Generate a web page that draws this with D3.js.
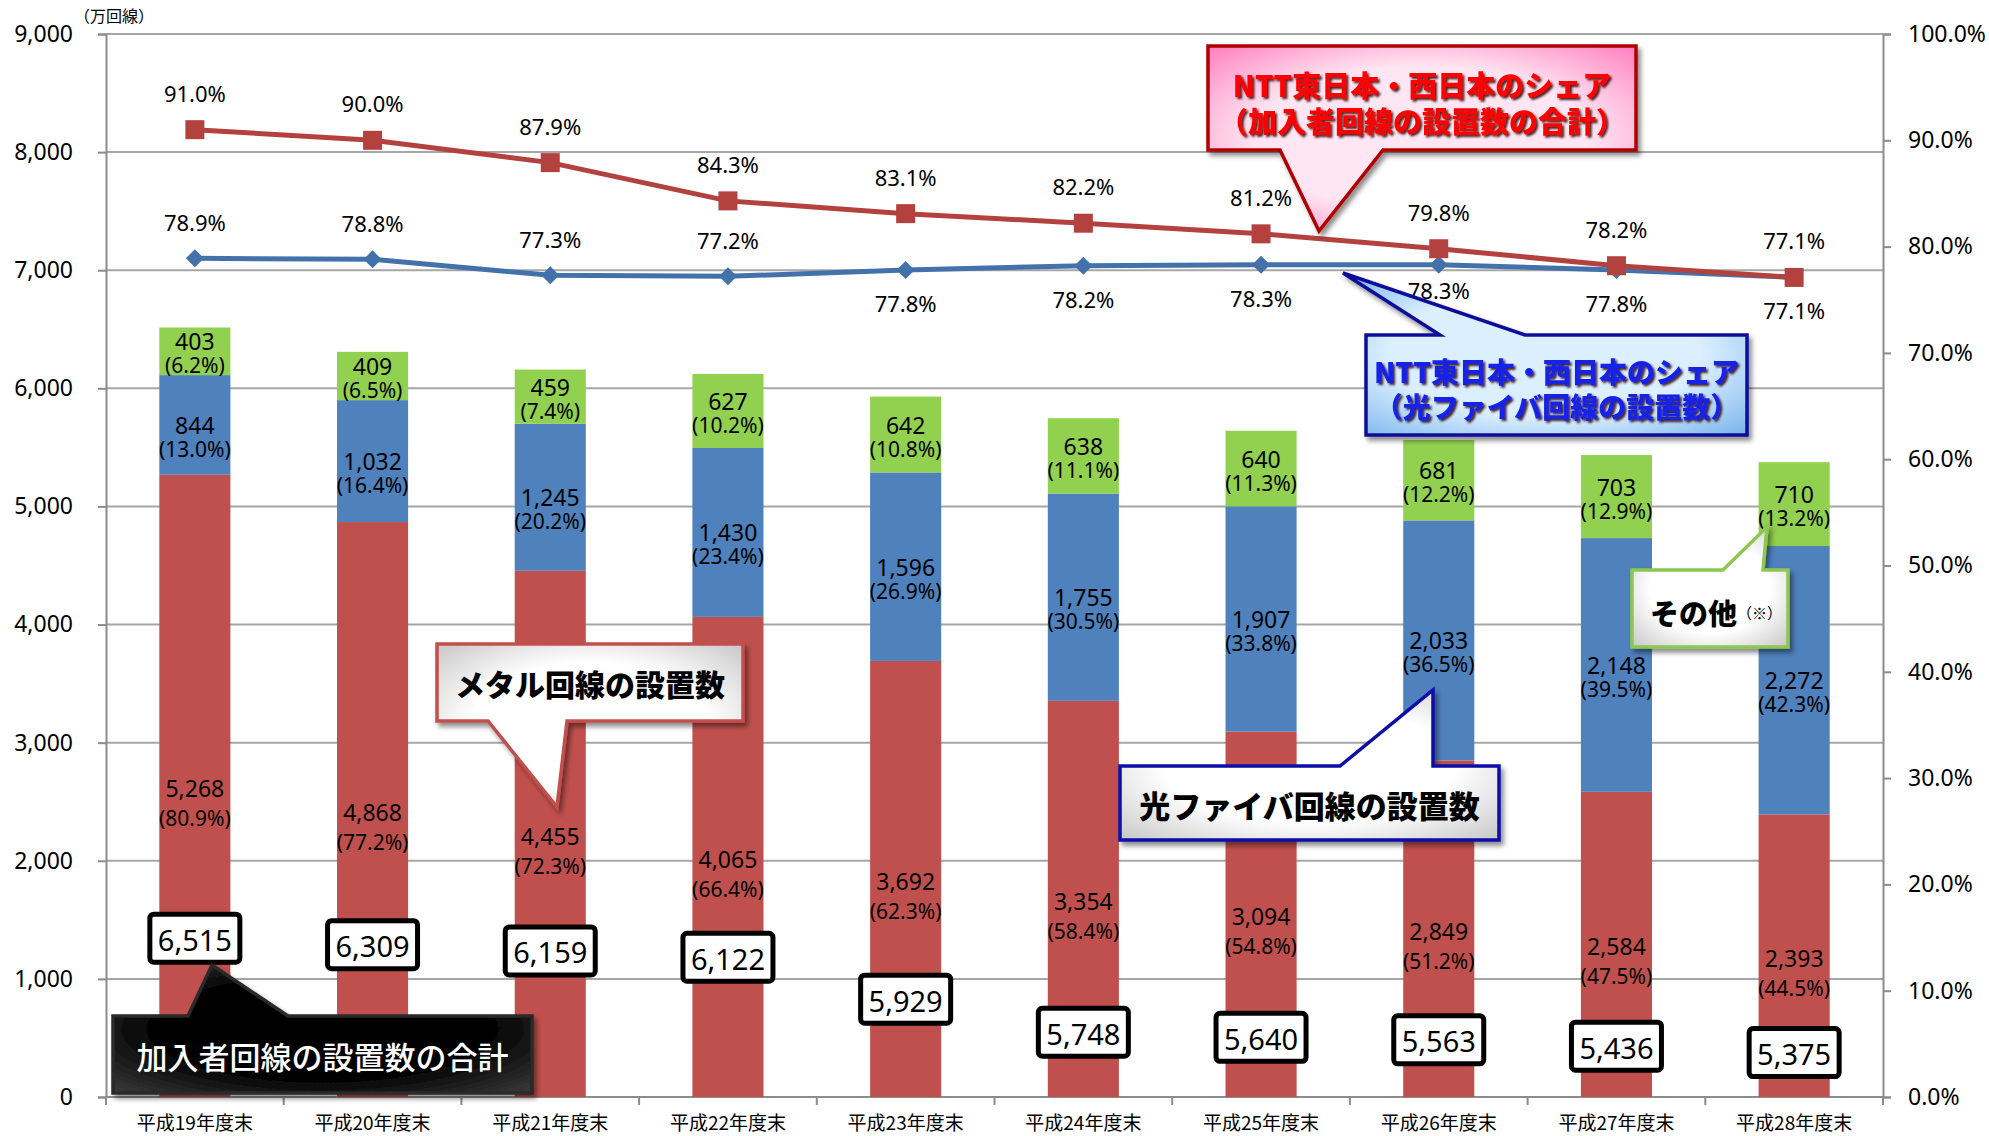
<!DOCTYPE html>
<html>
<head>
<meta charset="utf-8">
<script src="https://cdn.jsdelivr.net/npm/d3@7"></script>
<style>
body { margin: 0; background: #fff; }
svg { display: block; }
text { font-family: "Noto Sans CJK JP", "Noto Sans", sans-serif; }
text.num { font-family: "Noto Sans", "Noto Sans CJK JP", sans-serif; }
</style>
</head>
<body>
<svg id="chart" width="1989" height="1136"></svg>
<script>
// categories
var years = ["平成19年度末", "平成20年度末", "平成21年度末", "平成22年度末", "平成23年度末",
             "平成24年度末", "平成25年度末", "平成26年度末", "平成27年度末", "平成28年度末"];

// 設置数 (万回線)
var metal = [5268, 4868, 4455, 4065, 3692, 3354, 3094, 2849, 2584, 2393];
var fiber = [844, 1032, 1245, 1430, 1596, 1755, 1907, 2033, 2148, 2272];
var other = [403, 409, 459, 627, 642, 638, 640, 681, 703, 710];
var total = [6515, 6309, 6159, 6122, 5929, 5748, 5640, 5563, 5436, 5375];

// 構成比 (%)
var metalPct = [80.9, 77.2, 72.3, 66.4, 62.3, 58.4, 54.8, 51.2, 47.5, 44.5];
var fiberPct = [13.0, 16.4, 20.2, 23.4, 26.9, 30.5, 33.8, 36.5, 39.5, 42.3];
var otherPct = [6.2, 6.5, 7.4, 10.2, 10.8, 11.1, 11.3, 12.2, 12.9, 13.2];

// NTT東西のシェア (%)
var shareTotal = [91.0, 90.0, 87.9, 84.3, 83.1, 82.2, 81.2, 79.8, 78.2, 77.1];
var shareFiber = [78.9, 78.8, 77.3, 77.2, 77.8, 78.2, 78.3, 78.3, 77.8, 77.1];
var shareFiberLabelSide = [-1, -1, -1, -1, 1, 1, 1, 1, 1, 1];

// where the total boxes sit (in 万回線 units of the left axis)
var totalBoxAt = [1345, 1290, 1237, 1183, 828, 548, 505, 484, 430, 376];

// left / right axis ticks
var leftTicks = [0, 1000, 2000, 3000, 4000, 5000, 6000, 7000, 8000, 9000];
var rightTicks = [0, 0.1, 0.2, 0.3, 0.4, 0.5, 0.6, 0.7, 0.8, 0.9, 1.0];

var colors = { metal: "#C0504D", fiber: "#4F81BD", other: "#92D050",
               redLine: "#B3423F", blueLine: "#4372AA", grid: "#A6A6A6", axis: "#8C8C8C" };

var plotL = 106, plotR = 1883, plotT = 34, plotB = 1097;

var svg = d3.select("#chart");

var x = d3.scaleBand().domain(years).range([plotL, plotR]).paddingInner(0.6).paddingOuter(0.3);
var y = d3.scaleLinear().domain([0, 9000]).range([plotB, plotT]);
var yR = d3.scaleLinear().domain([0, 1]).range([plotB, plotT]);
var bw = x.bandwidth();
var step = x.step();
function cx(i) { return x(years[i]) + bw / 2; }

// defs: gradients and shadows
var defs = svg.append("defs");
function radial(id, inner, outer) {
  var g = defs.append("radialGradient").attr("id", id).attr("cx", "50%").attr("cy", "50%").attr("r", "70%");
  g.append("stop").attr("offset", "0%").attr("stop-color", inner);
  g.append("stop").attr("offset", "55%").attr("stop-color", inner);
  g.append("stop").attr("offset", "100%").attr("stop-color", outer);
}
radial("gPink", "#FFE6F2", "#FF7FBF");
radial("gBlue", "#DCEFFF", "#78B4EC");
radial("gWhite", "#FFFFFF", "#C8C8C8");
radial("gBlack", "#000000", "#3A3A3A");

var sh = defs.append("filter").attr("id", "shadow").attr("x", "-10%").attr("y", "-10%").attr("width", "130%").attr("height", "140%");
sh.append("feDropShadow").attr("dx", 3).attr("dy", 4).attr("stdDeviation", 2.5).attr("flood-color", "#000").attr("flood-opacity", 0.45);
var ts = defs.append("filter").attr("id", "textShadow");
ts.append("feDropShadow").attr("dx", 2).attr("dy", 2).attr("stdDeviation", 0.8).attr("flood-color", "#2a0000").attr("flood-opacity", 0.85);

// gridlines
svg.append("g").selectAll("line").data(leftTicks.slice(1)).join("line")
  .attr("x1", plotL).attr("x2", plotR)
  .attr("y1", function(d) { return y(d); }).attr("y2", function(d) { return y(d); })
  .attr("stroke", colors.grid).attr("stroke-width", 2);

// axes
var axL = svg.append("g").attr("transform", "translate(" + plotL + ",0)")
  .call(d3.axisLeft(y).tickValues(leftTicks).tickFormat(d3.format(",")).tickSize(8).tickPadding(25));
var axR = svg.append("g").attr("transform", "translate(" + plotR + ",0)")
  .call(d3.axisRight(yR).tickValues(rightTicks).tickFormat(d3.format(".1%")).tickSize(8).tickPadding(17));
[axL, axR].forEach(function(a) {
  a.select(".domain").attr("stroke", colors.axis).attr("stroke-width", 2);
  a.selectAll(".tick line").attr("stroke", colors.axis).attr("stroke-width", 2);
  a.selectAll(".tick text").attr("class", "num").attr("font-size", 23).attr("fill", "#000")
    .attr("font-family", null);
});

// bottom axis: boundary ticks and category labels
svg.append("line").attr("x1", plotL).attr("x2", plotR).attr("y1", plotB).attr("y2", plotB)
  .attr("stroke", colors.axis).attr("stroke-width", 2);
svg.append("g").selectAll("line").data(d3.range(years.length + 1)).join("line")
  .attr("x1", function(i) { return plotL + i * step; }).attr("x2", function(i) { return plotL + i * step; })
  .attr("y1", plotB).attr("y2", plotB + 8)
  .attr("stroke", colors.axis).attr("stroke-width", 2);
svg.append("g").selectAll("text").data(years).join("text")
  .attr("x", function(d, i) { return cx(i); }).attr("y", 1121)
  .attr("text-anchor", "middle").attr("dominant-baseline", "central")
  .attr("font-size", 19).text(function(d) { return d; });

svg.append("text").attr("x", 114).attr("y", 15).attr("text-anchor", "middle").attr("dominant-baseline", "central")
  .attr("font-size", 16).text("（万回線）");

// stacked bars
var rows = years.map(function(d, i) {
  return { year: d, metal: metal[i], fiber: fiber[i], other: other[i] };
});
var pcts = { metal: metalPct, fiber: fiberPct, other: otherPct };
var keys = ["metal", "fiber", "other"];
var stack = d3.stack().keys(keys)(rows);

var layers = svg.append("g").selectAll("g").data(stack).join("g")
  .attr("fill", function(s) { return colors[s.key]; });
layers.selectAll("rect").data(function(s) { return s; }).join("rect")
  .attr("x", function(d) { return x(d.data.year); })
  .attr("width", bw)
  .attr("y", function(d) { return y(d[1]); })
  .attr("height", function(d) { return y(d[0]) - y(d[1]); });

// segment labels
var lineOffsets = { metal: [2, 32], fiber: [0, 24], other: [-10, 14] };
var fmt = d3.format(",");
stack.forEach(function(s) {
  var g = svg.append("g").attr("font-size", 23).attr("text-anchor", "middle").attr("fill", "#000");
  s.forEach(function(d, i) {
    var mid = y((d[0] + d[1]) / 2);
    g.append("text").attr("class", "num").attr("x", cx(i)).attr("y", mid + lineOffsets[s.key][0])
      .attr("dominant-baseline", "central").text(fmt(d.data[s.key]));
    g.append("text").attr("class", "num").attr("x", cx(i)).attr("y", mid + lineOffsets[s.key][1])
      .attr("dominant-baseline", "central").attr("font-size", 21)
      .text("(" + pcts[s.key][i].toFixed(1) + "%)");
  });
});

// total boxes
var tb = svg.append("g").selectAll("g").data(total).join("g")
  .attr("transform", function(d, i) { return "translate(" + cx(i) + "," + y(totalBoxAt[i]) + ")"; });
tb.append("rect").attr("x", -45).attr("y", -24).attr("width", 90).attr("height", 48).attr("rx", 4)
  .attr("fill", "#fff").attr("stroke", "#000").attr("stroke-width", 5);
tb.append("text").attr("class", "num").attr("text-anchor", "middle").attr("dominant-baseline", "central").attr("y", 1)
  .attr("font-size", 29).text(function(d) { return fmt(d); });

// share lines
var idx = d3.range(years.length);
var lineRed = d3.line().x(function(i) { return cx(i); }).y(function(i) { return yR(shareTotal[i] / 100); });
var lineBlue = d3.line().x(function(i) { return cx(i); }).y(function(i) { return yR(shareFiber[i] / 100); });

svg.append("path").datum(idx).attr("d", lineBlue).attr("fill", "none")
  .attr("stroke", colors.blueLine).attr("stroke-width", 5);
svg.append("g").selectAll("path").data(idx).join("path")
  .attr("d", "M0,-9L9,0L0,9L-9,0Z").attr("fill", colors.blueLine)
  .attr("transform", function(i) { return "translate(" + cx(i) + "," + yR(shareFiber[i] / 100) + ")"; });

svg.append("path").datum(idx).attr("d", lineRed).attr("fill", "none")
  .attr("stroke", colors.redLine).attr("stroke-width", 5);
svg.append("g").selectAll("rect").data(idx).join("rect")
  .attr("x", function(i) { return cx(i) - 9.5; }).attr("y", function(i) { return yR(shareTotal[i] / 100) - 9.5; })
  .attr("width", 19).attr("height", 19).attr("fill", colors.redLine);

svg.append("g").selectAll("text").data(idx).join("text").attr("class", "num")
  .attr("x", function(i) { return cx(i); }).attr("y", function(i) { return yR(shareTotal[i] / 100) - 37; })
  .attr("text-anchor", "middle").attr("dominant-baseline", "central").attr("font-size", 22)
  .text(function(i) { return shareTotal[i].toFixed(1) + "%"; });
svg.append("g").selectAll("text").data(idx).join("text").attr("class", "num")
  .attr("x", function(i) { return cx(i); })
  .attr("y", function(i) { return yR(shareFiber[i] / 100) + (shareFiberLabelSide[i] < 0 ? -36 : (i === 7 ? 25 : 33)); })
  .attr("text-anchor", "middle").attr("dominant-baseline", "central").attr("font-size", 22)
  .text(function(i) { return shareFiber[i].toFixed(1) + "%"; });

// callouts (annotation boxes with pointers)
function calloutPath(c) {
  var b = c.box, p = c.ptr, t = c.tip;
  if (c.side === "bottom") {
    return "M" + b[0] + "," + b[1] + "H" + b[2] + "V" + b[3] + "H" + p[1] + "L" + t[0] + "," + t[1] +
      "L" + p[0] + "," + b[3] + "H" + b[0] + "Z";
  }
  return "M" + b[0] + "," + b[1] + "H" + p[0] + "L" + t[0] + "," + t[1] + "L" + p[1] + "," + b[1] +
    "H" + b[2] + "V" + b[3] + "H" + b[0] + "Z";
}

var callouts = [
  { box: [1208, 46, 1636, 150], ptr: [1280, 1383], tip: [1319, 231], side: "bottom",
    fill: "url(#gPink)", stroke: "#B00000", lines: ["NTT東日本・西日本のシェア", "（加入者回線の設置数の合計）"],
    color: "#FF0000", size: 29, weight: 900, shadow: true, ly: [84, 120] },
  { box: [1366, 335, 1747, 435], ptr: [1440, 1525], tip: [1343, 273], side: "top",
    fill: "url(#gBlue)", stroke: "#10109A", lines: ["NTT東日本・西日本のシェア", "（光ファイバ回線の設置数）"],
    color: "#1424E6", size: 28, weight: 900, shadow: true, ly: [371, 406] },
  { box: [437, 644, 743, 721], ptr: [488, 567], tip: [557, 807], side: "bottom",
    fill: "url(#gWhite)", stroke: "#C0504D", lines: ["メタル回線の設置数"],
    color: "#000", size: 30, weight: 900, shadow: false, ly: [683] },
  { box: [1120, 766, 1499, 840], ptr: [1340, 1433], tip: [1433, 690], side: "top",
    fill: "url(#gWhite)", stroke: "#0A0AA8", lines: ["光ファイバ回線の設置数"],
    color: "#000", size: 31, weight: 900, shadow: false, ly: [804] },
  { box: [1632, 570, 1788, 647], ptr: [1723, 1763], tip: [1767, 527], side: "top",
    fill: "url(#gWhite)", stroke: "#8CC850", lines: [""],
    color: "#000", size: 30, weight: 900, shadow: false, ly: [610] },
  { box: [113, 1016, 532, 1093], ptr: [188, 288], tip: [212, 965], side: "top",
    fill: "url(#gBlack)", stroke: "#2A2A2A", lines: ["加入者回線の設置数の合計"],
    color: "#fff", size: 31, weight: 500, shadow: false, ly: [1055] }
];

callouts.forEach(function(c) {
  var g = svg.append("g");
  g.append("path").attr("d", calloutPath(c)).attr("fill", c.fill)
    .attr("stroke", c.stroke).attr("stroke-width", 3.5).attr("stroke-linejoin", "miter")
    .attr("filter", "url(#shadow)");
  var mx = (c.box[0] + c.box[2]) / 2;
  c.lines.forEach(function(l, k) {
    if (!l) return;
    g.append("text").attr("x", mx).attr("y", c.ly[k]).attr("text-anchor", "middle")
      .attr("dominant-baseline", "central").attr("font-size", c.size).attr("font-weight", c.weight)
      .attr("fill", c.color).attr("filter", c.shadow ? "url(#textShadow)" : null).text(l);
  });
});

// その他（※）
var oth = svg.append("text").attr("x", 1650).attr("y", 612).attr("dominant-baseline", "central");
oth.append("tspan").attr("font-size", 29).attr("font-weight", 900).text("その他");
oth.append("tspan").attr("font-size", 15).text("（※）");
</script>
</body>
</html>
